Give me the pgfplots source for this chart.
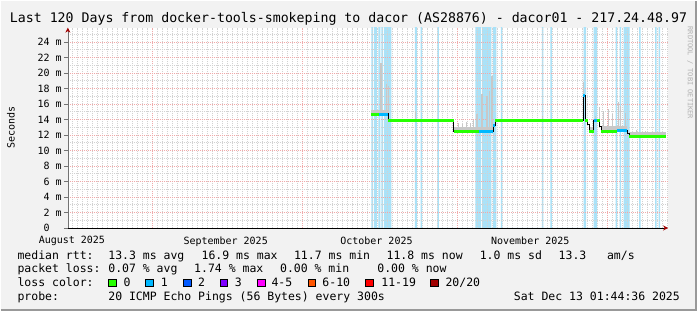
\documentclass[border=0pt]{standalone}
\usepackage{fontspec}
\setmainfont{DejaVu Sans Mono}
\usepackage{pgfplots}
\pgfplotsset{compat=1.18}
\usetikzlibrary{arrows.meta}
\definecolor{bg}{HTML}{F2F2F2}
\definecolor{lossbg}{HTML}{AAE2F8}
\definecolor{lc0}{HTML}{26FF00}
\definecolor{lc1}{HTML}{00B8FF}
\definecolor{lc2}{HTML}{0059FF}
\definecolor{lc3}{HTML}{7E00FF}
\definecolor{lc4}{HTML}{FF00FF}
\definecolor{lc6}{HTML}{FF5500}
\definecolor{lc11}{HTML}{FF0000}
\definecolor{lc20}{HTML}{A10000}
\definecolor{mgrid}{HTML}{F0AAAA}
\definecolor{ngrid}{HTML}{D2D2D2}
\definecolor{smoke}{HTML}{C8C8C8}
\definecolor{arrowc}{HTML}{A00000}
\pgfplotsset{chartbox/.style={at={(67pt,82.7pt)}, anchor=south west,
  scale only axis, width=601pt, height=200.6pt,
  xmin=14.07, xmax=134.07, ymin=0, ymax=25.85}}
\begin{document}
\begin{tikzpicture}
\fill[bg] (0pt,0pt) rectangle (697pt,310pt);
\draw[black!40, line width=2pt] (0pt,1pt) -- (696pt,1pt) -- (696pt,310pt);
\fill[white] (67pt,82.7pt) rectangle (668pt,283.3pt);
% packet loss background
\begin{axis}[chartbox, hide axis]
\addplot[const plot, fill=lossbg, draw=none] coordinates {
(74.73,26) (75.03,0) (75.27,26) (75.87,0) (76.13,26) (76.53,0) (76.73,26) (77.03,0) (77.23,26) (78.77,0)
(83.46,26) (83.86,0) (84.60,26) (84.90,0) (87.95,26) (88.25,0)
(95.54,26) (96.64,0) (96.84,26) (98.73,0) (99.03,26) (99.73,0) (100.63,26) (100.93,0)
(108.82,26) (109.12,0) (110.52,26) (110.82,0)
(117.21,26) (117.70,0) (119.20,26) (119.90,0) (123.60,26) (123.89,0) (124.39,26) (124.69,0) (125.19,26) (126.39,0)
(128.29,26) (128.59,0) (131.48,26) (131.78,0) (132.18,26) (132.48,0)
} \closedcycle;
\end{axis}
\begin{axis}[
  chartbox,
  axis lines=left,
  x axis line style={black, line width=0.8pt, -{Stealth[length=5pt,width=5pt,color=arrowc]}},
  y axis line style={black!55, line width=0.8pt, -{Stealth[length=5pt,width=5pt,color=arrowc]}},
  tick align=outside,
  major tick length=4pt, minor tick length=0pt,
  xtick style={draw=none},
  ytick style={black!55, line width=0.6pt},
  xtick={31,61,92,122}, xticklabels={,,,},
  minor xtick={15,16,...,134},
  ytick={0,2,...,24},
  yticklabels={0\hphantom{mm},2 m,4 m,6 m,8 m,10 m,12 m,14 m,16 m,18 m,20 m,22 m,24 m},
  minor ytick={1,3,...,25},
  grid=both,
  major grid style={mgrid, dash pattern=on 1pt off 1pt, line width=0.7pt},
  minor grid style={ngrid, dash pattern=on 1pt off 1pt, line width=0.7pt},
  tick label style={font=\fontsize{10}{12}\selectfont},
  yticklabel style={inner sep=2pt},
  extra x ticks={14.87,45.62,75.77,106.52},
  extra x tick labels={August 2025,September 2025,October 2025,November 2025},
  extra x tick style={grid=none, xticklabel style={yshift=-1pt}},
]
% smoke band just above the median
\addplot[smoke, line width=3.5pt, unbounded coords=jump] coordinates {
(74.77,15.05) (78.17,15.05) (78.17,nan)
(91.25,12.85) (99.13,12.85) (99.13,nan)
(118.30,12.85) (119.20,12.85) (119.20,nan)
(120.70,12.9) (125.89,12.9) (125.89,nan)
(126.29,12.15) (133.68,12.15)};
% smoke spikes
\addplot[smoke, line width=1.2pt, unbounded coords=jump] coordinates {
(76.67,14.7) (76.67,21.3) (76.67,nan)
(77.77,14.7) (77.77,18.6) (77.77,nan)
(78.23,13.9) (78.23,18.3) (78.23,nan)
(83.56,13.9) (83.56,15.1) (83.56,nan)
(92.14,12.45) (92.14,13.6) (92.14,nan)
(92.94,12.45) (92.94,13.4) (92.94,nan)
(93.74,12.45) (93.74,13.7) (93.74,nan)
(94.54,12.45) (94.54,13.5) (94.54,nan)
(95.14,12.45) (95.14,13.9) (95.14,nan)
(95.88,12.45) (95.88,14.7) (95.88,nan)
(96.88,12.45) (96.88,17.3) (96.88,nan)
(97.88,12.45) (97.88,17.0) (97.88,nan)
(98.40,12.45) (98.40,17.7) (98.40,nan)
(98.87,12.45) (98.87,19.6) (98.87,nan)
(108.98,13.85) (108.98,14.5) (108.98,nan)
(117.17,17.05) (117.17,18.8) (117.17,nan)
(119.50,13.9) (119.50,14.5) (119.50,nan)
(120.36,13.9) (120.36,15.6) (120.36,nan)
(121.16,12.5) (121.16,15.1) (121.16,nan)
(122.16,12.5) (122.16,15.3) (122.16,nan)
(122.90,12.5) (122.90,14.7) (122.90,nan)
(124.15,12.55) (124.15,16.2) (124.15,nan)
(124.63,12.55) (124.63,15.8) (124.63,nan)
(125.49,12.55) (125.49,14.9) (125.49,nan)
(127.83,11.8) (127.83,12.6) (127.83,nan)
(129.49,11.8) (129.49,12.5)};
% median
\addplot[const plot, black, line width=1.2pt] coordinates {
(74.77,14.7) (78.17,13.9) (91.25,12.45) (99.13,13.2) (99.53,13.85) (117.11,17.05) (117.51,13.85)
(118.00,13.4) (118.30,12.5) (119.20,13.9) (120.40,13.1) (120.70,12.5) (123.89,12.55) (125.89,12.2)
(126.29,11.8) (133.68,11.8)};
% median coloured by loss: 0
\addplot[lc0, line width=3pt, unbounded coords=jump] coordinates {
(74.77,14.7) (76.37,14.7) (76.37,nan)
(78.17,13.9) (91.25,13.9) (91.25,nan)
(91.25,12.45) (96.34,12.45) (96.34,nan)
(99.53,13.85) (117.11,13.85) (117.11,nan)
(117.51,13.85) (118.00,13.85) (118.00,nan)
(118.30,12.5) (119.20,12.5) (119.20,nan)
(119.90,13.9) (120.40,13.9) (120.40,nan)
(120.70,12.5) (123.89,12.5) (123.89,nan)
(126.29,11.8) (133.68,11.8)};
% loss 1
\addplot[lc1, line width=3pt, unbounded coords=jump] coordinates {
(76.37,14.7) (78.17,14.7) (78.17,nan)
(96.34,12.45) (99.13,12.45) (99.13,nan)
(99.13,13.2) (99.53,13.2) (99.53,nan)
(117.11,17.05) (117.51,17.05) (117.51,nan)
(119.20,13.9) (119.90,13.9) (119.90,nan)
(123.89,12.55) (125.89,12.55)};
\end{axis}
% texts
\node[font=\fontsize{13.25}{15}\selectfont, anchor=base, inner sep=0pt] at (348pt,288pt)
  {Last 120 Days from docker-tools-smokeping to dacor (AS28876) - dacor01 - 217.24.48.97};
\node[font=\fontsize{10}{12}\selectfont, rotate=90, inner sep=0pt] at (10pt,183pt) {Seconds};
\node[font=\fontsize{7}{8}\selectfont, rotate=-90, inner sep=0pt, text=black!30] at (690pt,238pt) {RRDTOOL / TOBI OETIKER};
\begin{scope}[every node/.style={font=\fontsize{11.5}{13}\selectfont, anchor=base west, inner sep=0pt}]
\node at (16.4pt,51.3pt) {median rtt:};
\node at (107.3pt,51.3pt) {13.3 ms avg};
\node at (200.7pt,51.3pt) {16.9 ms max};
\node at (293.3pt,51.3pt) {11.7 ms min};
\node at (386pt,51.3pt) {11.8 ms now};
\node at (479.3pt,51.3pt) {1.0 ms sd};
\node at (558.3pt,51.3pt) {13.3};
\node at (606.7pt,51.3pt) {am/s};
\node at (16.4pt,37.7pt) {packet loss:};
\node at (107.3pt,37.7pt) {0.07 \% avg};
\node at (193.3pt,37.7pt) {1.74 \% max};
\node at (279.3pt,37.7pt) {0.00 \% min};
\node at (376.7pt,37.7pt) {0.00 \% now};
\node at (16.4pt,23.8pt) {loss color:};
\node at (122.7pt,23.8pt) {0};
\node at (160pt,23.8pt) {1};
\node at (197.3pt,23.8pt) {2};
\node at (234pt,23.8pt) {3};
\node at (270.7pt,23.8pt) {4-5};
\node at (321.7pt,23.8pt) {6-10};
\node at (380.7pt,23.8pt) {11-19};
\node at (445pt,23.8pt) {20/20};
\node at (16.4pt,10pt) {probe:};
\node at (107.3pt,10pt) {20 ICMP Echo Pings (56 Bytes) every 300s};
\node[anchor=base east] at (680pt,10pt) {Sat Dec 13 01:44:36 2025};
\end{scope}
\begin{scope}[line width=0.6pt]
\filldraw[fill=lc0, draw=black] (107.3pt,23.8pt) rectangle (115pt,31.6pt);
\filldraw[fill=lc1, draw=black] (145pt,23.8pt) rectangle (152.7pt,31.6pt);
\filldraw[fill=lc2, draw=black] (182.7pt,23.8pt) rectangle (190.4pt,31.6pt);
\filldraw[fill=lc3, draw=black] (219.3pt,23.8pt) rectangle (227pt,31.6pt);
\filldraw[fill=lc4, draw=black] (256.7pt,23.8pt) rectangle (264.4pt,31.6pt);
\filldraw[fill=lc6, draw=black] (307.3pt,23.8pt) rectangle (315pt,31.6pt);
\filldraw[fill=lc11, draw=black] (365pt,23.8pt) rectangle (372.7pt,31.6pt);
\filldraw[fill=lc20, draw=black] (430pt,23.8pt) rectangle (437.7pt,31.6pt);
\end{scope}
\end{tikzpicture}
\end{document}
